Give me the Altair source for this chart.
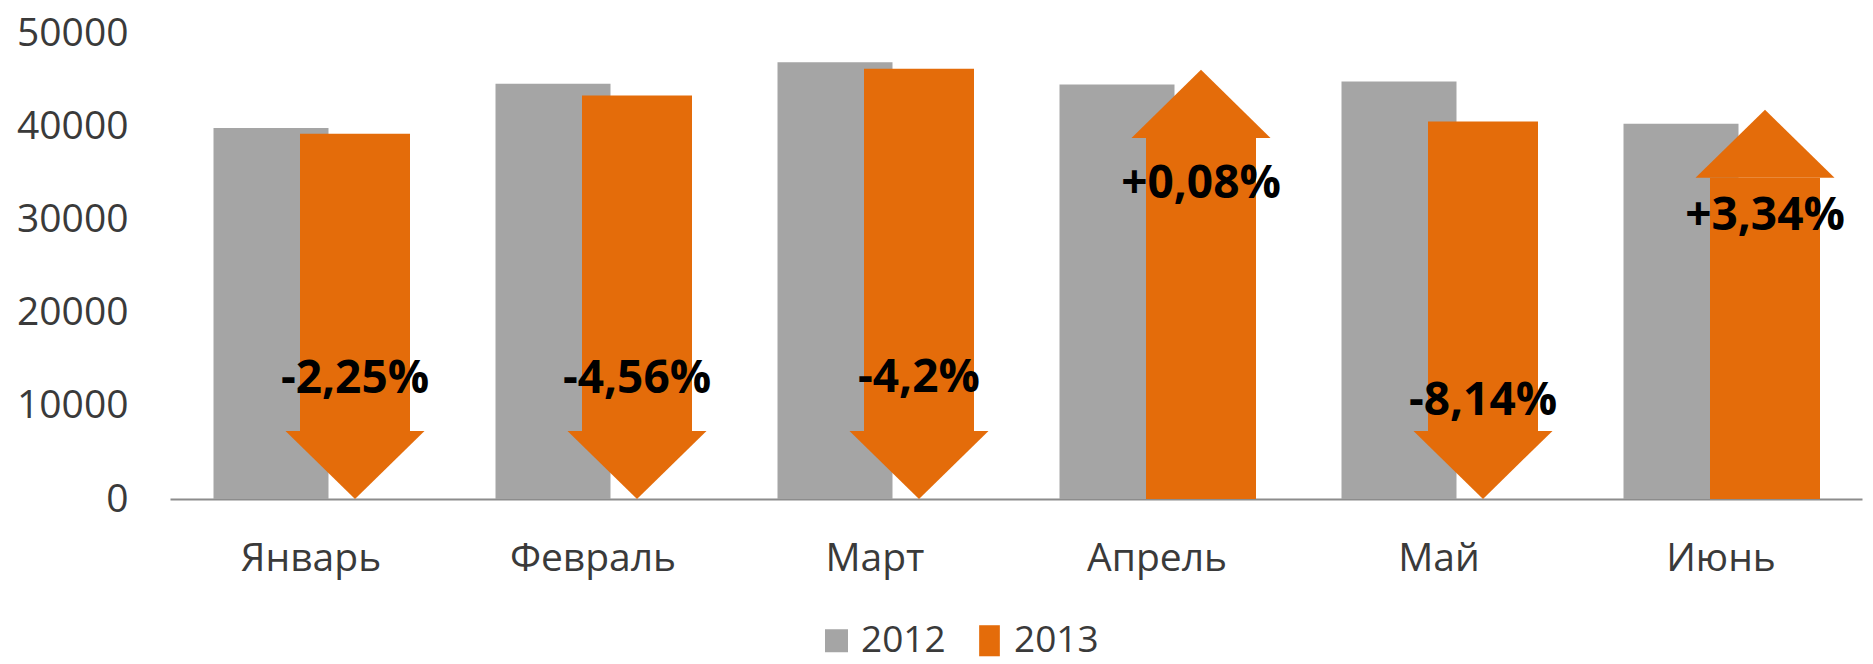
import altair as alt
import pandas as pd

months = ["Январь", "Февраль", "Март", "Апрель", "Май", "Июнь"]
series_names = ["2012", "2013"]
values_2012 = [39800, 44560, 46870, 44480, 44800, 40270]
values_2013 = [39200, 43300, 46160, 46050, 40510, 41770]
change_labels = ["-2,25%", "-4,56%", "-4,2%", "+0,08%", "-8,14%", "+3,34%"]
label_anchor = [11360, 11360, 11470, 32260, 9000, 28830]
y_ticks = [0, 10000, 20000, 30000, 40000, 50000]

GRAY = "#a5a5a5"
ORANGE = "#e46c0a"
TEXT = "#3a3a3a"
FONT = "Open Sans"
HEAD = 7300  # arrow head height in data units
OFF_2012 = -40
OFF_2013 = 44

PATH_DOWN = "M-1,-0.98L1,-0.98L0,0Z"
PATH_UP = "M-1,0.98L1,0.98L0,0Z"
LEGEND_2013 = "M-0.9,-1.35L0.9,-1.35L0.9,1.35L-0.9,1.35Z"

df = pd.DataFrame({
    "month": months,
    "v2012": values_2012,
    "v2013": values_2013,
    "change": change_labels,
    "anchor": label_anchor,
})

legend_df = pd.DataFrame({"year": series_names, "month": [months[0]] * 2, "val": [0, 0]})

x_enc = alt.X(
    "month:N",
    sort=months,
    scale=alt.Scale(paddingInner=0, paddingOuter=0),
    axis=alt.Axis(
        title=None, labelAngle=0, ticks=False, domainColor="#8c8c8c", domainWidth=2,
        labelFont=FONT, labelFontSize=39, labelColor=TEXT, labelPadding=40,
    ),
)
y_scale = alt.Scale(domain=[0, 50000], nice=False)
y_axis = alt.Axis(
    title=None, values=y_ticks, format="d", grid=False, domain=False, ticks=False,
    labelFont=FONT, labelFontSize=39, labelColor=TEXT, labelPadding=42,
)

base = alt.Chart(df).transform_calculate(
    up="indexof(datum.change, '+') == 0",
).transform_calculate(
    body_top=f"datum.up ? datum.v2013 - {HEAD} : datum.v2013",
    body_bottom=f"datum.up ? 0 : {HEAD}",
    zero="0",
)

gray_bars = base.mark_bar(size=115, xOffset=OFF_2012, color=GRAY).encode(
    x=x_enc,
    y=alt.Y("v2012:Q", scale=y_scale, axis=y_axis),
)

orange_body = base.mark_bar(size=110, xOffset=OFF_2013, color=ORANGE).encode(
    x=x_enc,
    y=alt.Y("body_top:Q", scale=y_scale),
    y2="body_bottom:Q",
)

heads_down = base.transform_filter("!datum.up").mark_point(
    shape=PATH_DOWN, size=139 * 139, filled=True, opacity=1, color=ORANGE,
    strokeWidth=0, xOffset=OFF_2013,
).encode(
    x=x_enc,
    y=alt.Y("zero:Q", scale=y_scale),
)

heads_up = base.transform_filter("datum.up").mark_point(
    shape=PATH_UP, size=139 * 139, filled=True, opacity=1, color=ORANGE,
    strokeWidth=0, xOffset=OFF_2013,
).encode(
    x=x_enc,
    y=alt.Y("v2013:Q", scale=y_scale),
)

labels = base.mark_text(
    font=FONT, fontWeight="bold", fontSize=46, color="black",
    baseline="alphabetic", align="center", xOffset=OFF_2013,
).encode(
    x=x_enc,
    y=alt.Y("anchor:Q", scale=y_scale),
    text="change:N",
)

legend_props = dict(
    title=None, orient="none", legendX=648, legendY=589, direction="horizontal",
    labelFont=FONT, labelFontSize=37, labelColor=TEXT, symbolSize=529,
    labelOffset=6, columnPadding=25, symbolStrokeWidth=0, symbolOpacity=1,
)

legend_layer = alt.Chart(legend_df).mark_point(filled=True, opacity=0).encode(
    x=alt.X("month:N", sort=months),
    y=alt.Y("val:Q", scale=y_scale),
    color=alt.Color(
        "year:N",
        scale=alt.Scale(domain=series_names, range=[GRAY, ORANGE]),
        legend=alt.Legend(**legend_props),
    ),
    shape=alt.Shape(
        "year:N",
        scale=alt.Scale(domain=series_names, range=["square", LEGEND_2013]),
        legend=alt.Legend(**legend_props),
    ),
)

chart = alt.layer(
    gray_bars, orange_body, heads_down, heads_up, labels, legend_layer
).properties(
    width=1692,
    height=466,
    padding={"left": 162, "top": 25, "right": 3, "bottom": 164},
    autosize=alt.AutoSizeParams(type="none"),
    background="white",
).configure_view(stroke=None)

chart.save("out.html", embed_options={"renderer": "svg", "actions": False})
